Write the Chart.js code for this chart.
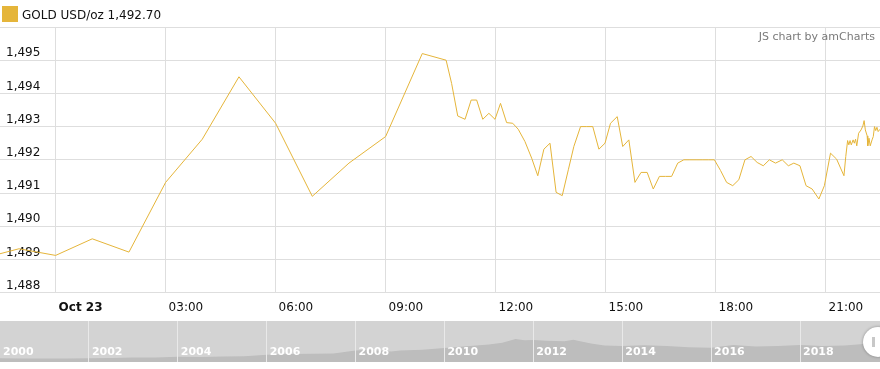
<!DOCTYPE html>
<html>
<head>
<meta charset="utf-8">
<script src="https://cdn.jsdelivr.net/npm/chart.js@4"></script>
<style>
  html, body { margin: 0; padding: 0; background: #fff; width: 880px; height: 369px; overflow: hidden; font-family: "DejaVu Sans", Verdana, sans-serif; }
  #main { position: absolute; left: 0; top: 0; }
  #scroll { position: absolute; left: 0; top: 321px; background: #d3d3d3; }
  #legend { position: absolute; left: 2px; top: 5px; height: 17px; display: flex; align-items: center; font-size: 12px; color: #111; }
  #legend .sw { width: 16px; height: 16px; background: #e5b53a; margin-right: 4px; }
  #legend span { position: relative; top: 1px; }
  #credit { position: absolute; right: 5px; top: 30px; font-size: 11px; color: #7a7a7a; }
  #handle { position: absolute; left: 863px; top: 327px; width: 30px; height: 30px; border-radius: 50%; background: #fff; box-shadow: 0 0 3px rgba(0,0,0,0.35); }
  #handle .g { position: absolute; left: 9px; top: 10px; width: 3px; height: 10px; background: #c8c8c8; }
</style>
</head>
<body>
<canvas id="main" width="880" height="328"></canvas>
<canvas id="scroll" width="880" height="41"></canvas>
<div id="legend"><div class="sw"></div><span id="legtext"></span></div>
<div id="credit">JS chart by amCharts</div>
<div id="handle"><div class="g"></div></div>
<script>
// ---- main series: minutes from Oct 23 00:00, GOLD USD/oz ----
const times = [-120,-60,0,60,120,180,240,300,360,420,480,540,600,639,648,658,670,680,689,699,709,719,728,738,748,757,768,779,789,799,809,819,829,839,848,859,869,879,889,899,908,919,928,938,948,958,968,978,988,998,1008,1018,1028,1038,1048,1058,1068,1078,1088,1098,1108,1118,1128,1138,1148,1158,1168,1178,1189,1199,1208,1218,1228,1238,1249,1258,1268,1278,1290,1293,1296,1298,1300,1302,1305,1307,1309,1311,1314,1318,1321,1323,1325,1328,1329,1331,1333,1336,1338,1340,1342,1344,1346,1349];
const prices = [1489.03,1489.32,1489.12,1489.62,1489.22,1491.32,1492.62,1494.50,1493.10,1490.90,1491.90,1492.70,1495.20,1495.00,1494.30,1493.32,1493.22,1493.80,1493.80,1493.22,1493.40,1493.22,1493.70,1493.12,1493.10,1492.92,1492.55,1492.05,1491.52,1492.32,1492.50,1491.02,1490.92,1491.70,1492.40,1493.00,1493.00,1493.00,1492.32,1492.50,1493.10,1493.30,1492.40,1492.60,1491.32,1491.62,1491.62,1491.12,1491.50,1491.50,1491.50,1491.90,1492.00,1492.00,1492.00,1492.00,1492.00,1492.00,1491.68,1491.32,1491.22,1491.40,1492.00,1492.10,1491.92,1491.82,1492.00,1491.90,1492.00,1491.82,1491.90,1491.82,1491.22,1491.12,1490.82,1491.22,1492.20,1492.02,1491.52,1492.10,1492.58,1492.45,1492.58,1492.45,1492.60,1492.50,1492.62,1492.42,1492.80,1492.90,1493.02,1493.18,1492.90,1492.72,1492.42,1492.65,1492.42,1492.60,1492.70,1493.00,1492.88,1492.98,1492.85,1492.92];
const seriesName = 'GOLD USD/oz';
const lastPrice = '1,492.70';

const xTickValues = [0,180,360,540,720,900,1080,1260];
const xTickLabels = ['Oct 23','03:00','06:00','09:00','12:00','15:00','18:00','21:00'];
const yTickValues = [1488,1489,1490,1491,1492,1493,1494,1495,1496];
const yTickLabels = ['1,488','1,489','1,490','1,491','1,492','1,493','1,494','1,495',''];

// ---- scrollbar history (year, price) ----
const histYears = [2000,2000.5,2001,2001.5,2002,2002.5,2003,2003.5,2004,2004.5,2005,2005.5,2006,2006.5,2007,2007.5,2008,2008.3,2008.8,2009,2009.5,2010,2010.5,2011,2011.3,2011.6,2011.8,2012,2012.3,2012.7,2012.9,2013,2013.3,2013.6,2014,2014.5,2015,2015.5,2016,2016.5,2017,2017.5,2018,2018.5,2019,2019.5,2019.8];
const histPrices = [285,280,265,270,295,315,350,350,405,395,425,440,560,620,650,670,900,950,820,900,950,1100,1230,1370,1500,1800,1700,1720,1650,1620,1740,1660,1450,1280,1250,1310,1250,1150,1120,1330,1210,1250,1330,1250,1290,1420,1495];
const yearTicks = [2000,2002,2004,2006,2008,2010,2012,2014,2016,2018];
const yearLabels = ['2000','2002','2004','2006','2008','2010','2012','2014','2016','2018'];

document.getElementById('legtext').textContent = seriesName + ' ' + lastPrice;

const FONT = '"DejaVu Sans", Verdana, sans-serif';
Chart.defaults.font.family = FONT;

new Chart(document.getElementById('main'), {
  type: 'line',
  data: {
    datasets: [{
      data: times.map((t, i) => ({ x: t, y: prices[i] })),
      borderColor: '#e5b53a',
      borderWidth: 1,
      pointRadius: 0,
      tension: 0,
      fill: false
    }]
  },
  options: {
    responsive: false,
    animation: false,
    devicePixelRatio: 1,
    layout: { padding: { left: 0, right: 0, top: 27, bottom: 5 } },
    plugins: { legend: { display: false }, tooltip: { enabled: false } },
    scales: {
      x: {
        type: 'linear',
        min: -91,
        max: 1349,
        afterBuildTicks: s => { s.ticks = xTickValues.map(v => ({ value: v })); },
        border: { display: false },
        grid: { color: '#dedede', lineWidth: 1, drawTicks: false },
        ticks: {
          autoSkip: false,
          maxRotation: 0,
          align: 'start',
          labelOffset: 3,
          padding: 8,
          color: '#111',
          font: ctx => ({ family: FONT, size: 12, weight: ctx.index === 0 ? 'bold' : 'normal' }),
          callback: (v) => { const i = xTickValues.indexOf(v); return i >= 0 ? xTickLabels[i] : ''; }
        }
      },
      y: {
        type: 'linear',
        min: 1488,
        max: 1496,
        afterBuildTicks: s => { s.ticks = yTickValues.map(v => ({ value: v })); },
        afterFit: s => { s.width = 0; },
        border: { display: false },
        grid: { color: '#dedede', lineWidth: 1, drawTicks: false },
        ticks: {
          mirror: true,
          padding: 6,
          labelOffset: -7,
          color: '#111',
          font: { family: FONT, size: 12 },
          callback: (v) => { const i = yTickValues.indexOf(v); return i >= 0 ? yTickLabels[i] : ''; }
        }
      }
    }
  }
});

const yearLabelPlugin = {
  id: 'yearLabels',
  afterDraw(chart) {
    const ctx = chart.ctx;
    const xs = chart.scales.x;
    ctx.save();
    ctx.font = 'bold 11px ' + FONT;
    ctx.fillStyle = '#ffffff';
    ctx.textAlign = 'left';
    ctx.textBaseline = 'middle';
    yearTicks.forEach((y, i) => {
      ctx.fillText(yearLabels[i], xs.getPixelForValue(y) + 3, 31);
    });
    ctx.restore();
  }
};

new Chart(document.getElementById('scroll'), {
  type: 'line',
  data: {
    datasets: [{
      data: histYears.map((t, i) => ({ x: t, y: histPrices[i] })),
      borderWidth: 0,
      borderColor: 'rgba(0,0,0,0)',
      backgroundColor: '#bdbdbd',
      pointRadius: 0,
      tension: 0,
      fill: 'origin'
    }]
  },
  options: {
    responsive: false,
    animation: false,
    devicePixelRatio: 1,
    layout: { padding: 0 },
    plugins: { legend: { display: false }, tooltip: { enabled: false } },
    scales: {
      x: {
        type: 'linear',
        min: 2000,
        max: 2019.8,
        afterBuildTicks: s => { s.ticks = yearTicks.slice(1).map(v => ({ value: v })); },
        border: { display: false },
        grid: { color: '#e9e9e9', lineWidth: 1, drawTicks: false, z: 1 },
        ticks: { display: false }
      },
      y: {
        display: false,
        min: 0,
        max: 3200
      }
    }
  },
  plugins: [yearLabelPlugin]
});
</script>
</body>
</html>
